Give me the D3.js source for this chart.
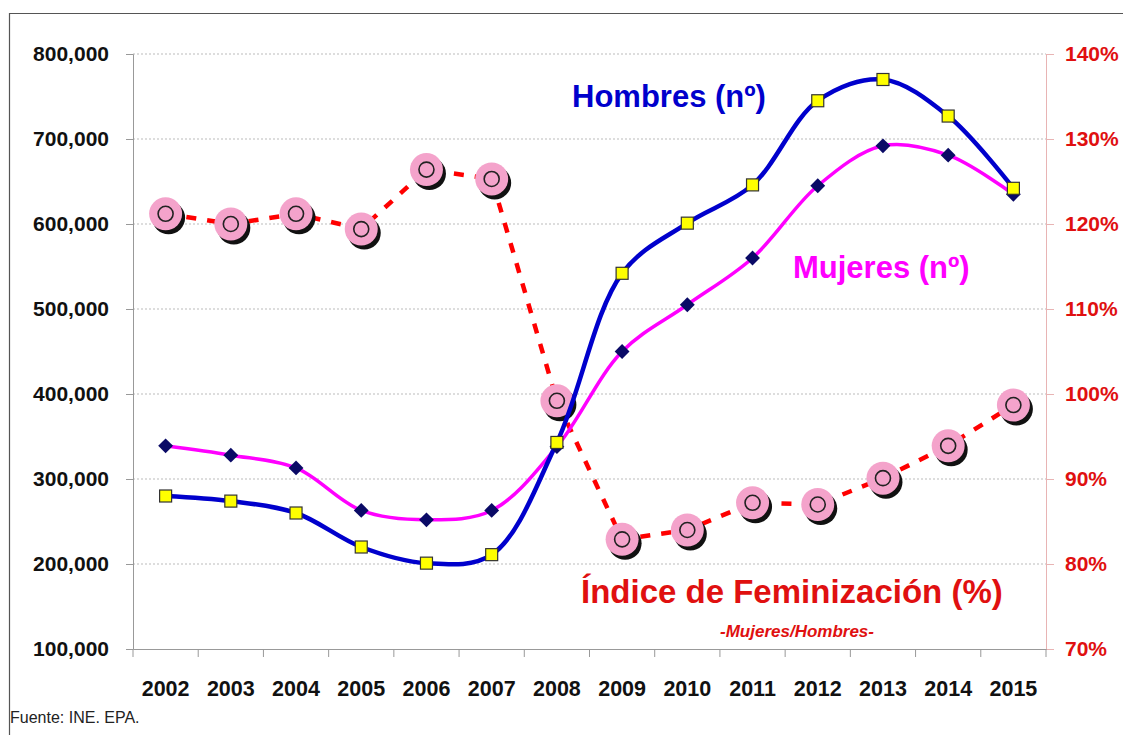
<!DOCTYPE html>
<html lang="es">
<head>
<meta charset="utf-8">
<script src="https://d3js.org/d3.v7.min.js"></script>
<style>
body { margin: 0; background: #ffffff; }
svg { font-family: "Liberation Sans", Arial, sans-serif; }
</style>
</head>
<body>
<div id="chart"></div>
<script>
// data
var years = ["2002","2003","2004","2005","2006","2007","2008","2009","2010","2011","2012","2013","2014","2015"];
var hombres = [280000, 274000, 260000, 220000, 201000, 211000, 343000, 542000, 601000, 646000, 745000, 770000, 727000, 642000];
var mujeres = [339000, 328000, 313000, 263000, 252000, 263000, 338000, 450000, 505000, 560000, 645000, 692000, 681000, 635000];
var indice = [121.2, 120.0, 121.2, 119.4, 126.4, 125.3, 99.2, 82.9, 84.0, 87.2, 87.0, 90.1, 93.9, 98.7];
var leftTicks = [100000, 200000, 300000, 400000, 500000, 600000, 700000, 800000];
var rightTicks = [70, 80, 90, 100, 110, 120, 130, 140];

var width = 1123, height = 735;
var plotLeft = 133, plotRight = 1046, plotTop = 54, plotBottom = 649;

var svg = d3.select("#chart").append("svg")
  .attr("width", width)
  .attr("height", height);

// frame
svg.append("path")
  .attr("d", "M9.5,735 V13.5 H1123")
  .attr("fill", "none")
  .attr("stroke", "#555")
  .attr("stroke-width", 1.2);

var x = d3.scaleBand().domain(years).range([plotLeft, plotRight]);
var yL = d3.scaleLinear().domain([100000, 800000]).range([plotBottom, plotTop]);
var yR = d3.scaleLinear().domain([70, 140]).range([plotBottom, plotTop]);
var cx = function(d, i) { return x(years[i]) + x.bandwidth() / 2; };

// gridlines
svg.append("g").selectAll("line")
  .data(leftTicks.slice(1))
  .enter().append("line")
  .attr("x1", plotLeft).attr("x2", plotRight)
  .attr("y1", function(d) { return yL(d); })
  .attr("y2", function(d) { return yL(d); })
  .attr("stroke", "#bbb")
  .attr("stroke-dasharray", "2,2");

// left axis
var fmt = d3.format(",");
var gl = svg.append("g").attr("transform", "translate(" + plotLeft + ",0)")
  .call(d3.axisLeft(yL).tickValues(leftTicks).tickFormat(fmt).tickSize(7).tickPadding(17));
gl.select(".domain").attr("stroke", "#999");
gl.selectAll(".tick line").attr("stroke", "#999");
gl.selectAll("text").attr("fill", "#111").style("font-size", "21px").style("font-weight", "bold")
  .style("font-family", "Liberation Sans, Arial, sans-serif");

// right axis
var gr = svg.append("g").attr("transform", "translate(" + plotRight + ",0)")
  .call(d3.axisRight(yR).tickValues(rightTicks).tickFormat(function(d) { return d + "%"; }).tickSize(8).tickPadding(11));
gr.select(".domain").attr("stroke", "#e8b4b4");
gr.selectAll(".tick line").attr("stroke", "#e8b4b4");
gr.selectAll("text").attr("fill", "#e01010").style("font-size", "21px").style("font-weight", "bold")
  .style("font-family", "Liberation Sans, Arial, sans-serif");

// bottom axis
var gb = svg.append("g").attr("transform", "translate(0," + plotBottom + ")")
  .call(d3.axisBottom(x).tickSize(0).tickPadding(32));
gb.select(".domain").attr("stroke", "#999");
gb.selectAll("text").attr("fill", "#111").style("font-size", "21.5px").style("font-weight", "bold")
  .style("font-family", "Liberation Sans, Arial, sans-serif");
gb.selectAll(".sep")
  .data(d3.range(years.length + 1))
  .enter().append("line")
  .attr("x1", function(i) { return plotLeft + i * x.bandwidth(); })
  .attr("x2", function(i) { return plotLeft + i * x.bandwidth(); })
  .attr("y1", 0).attr("y2", 8)
  .attr("stroke", "#999");

// feminization index (secondary axis)
var lineR = d3.line().x(cx).y(function(d) { return yR(d); });
svg.append("path")
  .datum(indice)
  .attr("d", lineR)
  .attr("fill", "none")
  .attr("stroke", "#ff0000")
  .attr("stroke-width", 4.5)
  .attr("stroke-dasharray", "10,11");

var dots = svg.append("g").selectAll("g")
  .data(indice)
  .enter().append("g")
  .attr("transform", function(d, i) { return "translate(" + cx(d, i) + "," + yR(d) + ")"; });
dots.append("circle").attr("cx", 3).attr("cy", 4).attr("r", 16.5).attr("fill", "#111");
dots.append("circle").attr("r", 16.5).attr("fill", "#f4a3cb");
dots.append("circle").attr("r", 7.5).attr("fill", "none").attr("stroke", "#222").attr("stroke-width", 1.6);

// smoothed lines
var lineL = d3.line().x(cx).y(function(d) { return yL(d); }).curve(d3.curveCatmullRom.alpha(0.5));

svg.append("path")
  .datum(mujeres)
  .attr("d", lineL)
  .attr("fill", "none")
  .attr("stroke", "#ff00ff")
  .attr("stroke-width", 3.5);

svg.append("path")
  .datum(hombres)
  .attr("d", lineL)
  .attr("fill", "none")
  .attr("stroke", "#0000cc")
  .attr("stroke-width", 4.5);

svg.append("g").selectAll("path")
  .data(mujeres)
  .enter().append("path")
  .attr("d", d3.symbol().type(d3.symbolSquare).size(110))
  .attr("transform", function(d, i) { return "translate(" + cx(d, i) + "," + yL(d) + ") rotate(45)"; })
  .attr("fill", "#0a0a66");

svg.append("g").selectAll("rect")
  .data(hombres)
  .enter().append("rect")
  .attr("x", function(d, i) { return cx(d, i) - 6; })
  .attr("y", function(d) { return yL(d) - 6; })
  .attr("width", 12).attr("height", 12)
  .attr("fill", "#ffff00")
  .attr("stroke", "#333")
  .attr("stroke-width", 1.2);

// series labels
svg.append("text")
  .attr("x", 572).attr("y", 107)
  .attr("fill", "#0000cc")
  .style("font-size", "31px").style("font-weight", "bold")
  .text("Hombres (nº)");

svg.append("text")
  .attr("x", 793).attr("y", 278)
  .attr("fill", "#ff00ff")
  .style("font-size", "31px").style("font-weight", "bold")
  .text("Mujeres (nº)");

svg.append("text")
  .attr("x", 581).attr("y", 603)
  .attr("fill", "#e01010")
  .style("font-size", "33px").style("font-weight", "bold")
  .text("Índice de Feminización (%)");

svg.append("text")
  .attr("x", 797).attr("y", 637)
  .attr("text-anchor", "middle")
  .attr("fill", "#e01010")
  .style("font-size", "17px").style("font-weight", "bold").style("font-style", "italic")
  .text("-Mujeres/Hombres-");

svg.append("text")
  .attr("x", 10).attr("y", 723)
  .attr("fill", "#222")
  .style("font-size", "16px")
  .text("Fuente: INE. EPA.");
</script>
</body>
</html>
